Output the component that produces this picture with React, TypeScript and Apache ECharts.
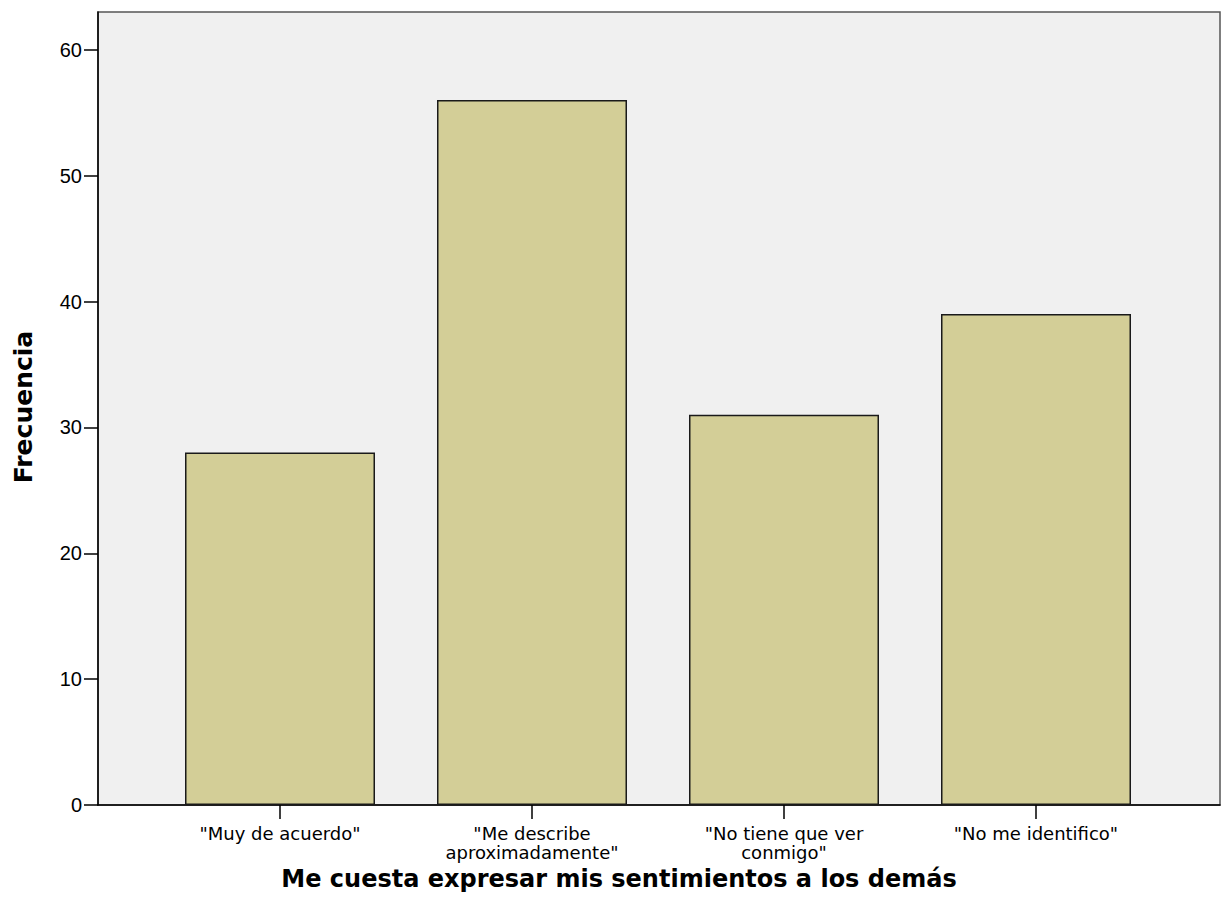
import React, { useEffect, useRef } from "react";
import * as echarts from "echarts";

const categories = [
  "\"Muy de acuerdo\"",
  "\"Me describe\naproximadamente\"",
  "\"No tiene que ver\nconmigo\"",
  "\"No me identifico\"",
];
const frequencies = [28, 56, 31, 39];
const yTicks = [0, 10, 20, 30, 40, 50, 60];
const xTitle = "Me cuesta expresar mis sentimientos a los demás";
const yTitle = "Frecuencia";

export default function App() {
  const ref = useRef<HTMLDivElement>(null);
  useEffect(() => {
    if (!ref.current) return;
    const chart = echarts.init(ref.current, null, { renderer: "svg" });
    chart.setOption({
      animation: false,
      backgroundColor: "#ffffff",
      grid: [
        {
          left: 98, top: 12, width: 1122, height: 793,
          show: true, backgroundColor: "#f0f0f0",
          borderColor: "#555555", borderWidth: 1.5,
        },
        { left: 154, top: 12, width: 1008, height: 793 },
      ],
      xAxis: [
        {
          gridIndex: 0, type: "value", min: 0, max: 1,
          axisLine: { show: true, onZero: false, lineStyle: { color: "#000", width: 1.5 } },
          axisTick: { show: false }, axisLabel: { show: false }, splitLine: { show: false },
        },
        {
          gridIndex: 1, type: "category", data: categories,
          axisLine: { show: false },
          axisTick: { show: true, alignWithLabel: true, length: 14, lineStyle: { color: "#000", width: 1.5 } },
          axisLabel: {
            margin: 19, fontFamily: "DejaVu Sans", fontSize: 18, color: "#000",
            lineHeight: 19, interval: 0,
          },
          splitLine: { show: false },
        },
      ],
      yAxis: [
        {
          gridIndex: 0, type: "value", min: 0, max: 63, interval: 10,
          axisLine: { show: true, lineStyle: { color: "#000", width: 1.5 } },
          axisTick: { show: true, length: 14, customValues: yTicks, lineStyle: { color: "#000", width: 1.5 } },
          axisLabel: {
            customValues: yTicks, margin: 16, fontFamily: "Liberation Sans", fontSize: 20, color: "#000",
          },
          splitLine: { show: false },
        },
        {
          gridIndex: 1, type: "value", min: 0, max: 63, interval: 10, show: false,
          splitLine: { show: false },
        },
      ],
      series: [
        {
          type: "bar", xAxisIndex: 1, yAxisIndex: 1, data: frequencies, barWidth: 190,
          itemStyle: { color: "#d3ce97", borderColor: "#1a1a1a", borderWidth: 1.5 },
        },
      ],
      graphic: [
        {
          type: "text", x: 619, y: 879,
          style: {
            text: xTitle, fontFamily: "DejaVu Sans", fontWeight: "bold", fontSize: 24,
            fill: "#000", align: "center", verticalAlign: "middle",
          },
        },
        {
          type: "text", x: 23, y: 407, rotation: Math.PI / 2,
          style: {
            text: yTitle, fontFamily: "DejaVu Sans", fontWeight: "bold", fontSize: 25,
            fill: "#000", align: "center", verticalAlign: "middle",
          },
        },
      ],
    });
    return () => chart.dispose();
  }, []);
  return (
    <div
      ref={ref}
      style={{ position: "fixed", left: 0, top: 0, width: 1224, height: 917 }}
    />
  );
}
